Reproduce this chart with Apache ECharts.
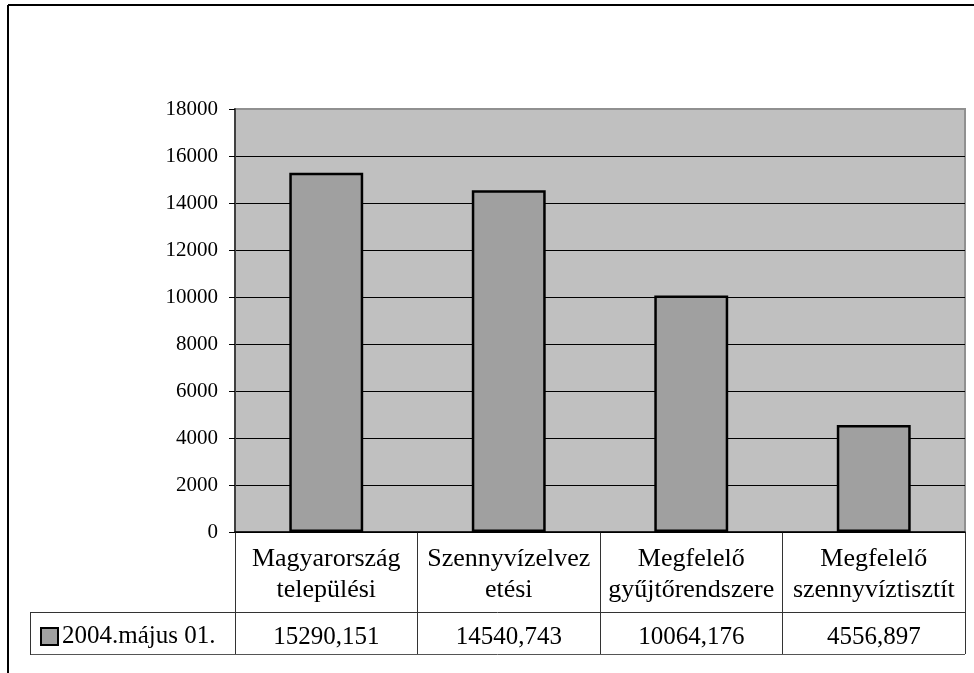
<!DOCTYPE html>
<html>
<head>
<meta charset="utf-8">
<script src="https://cdn.jsdelivr.net/npm/echarts@6/dist/echarts.min.js"></script>
<style>html,body{margin:0;padding:0;background:#fff}#c{width:974px;height:673px}</style>
</head>
<body>
<div id="c"></div>
<script>
const categories = ['Magyarország\ntelepülési', 'Szennyvízelvez\netési', 'Megfelelő\ngyűjtőrendszere', 'Megfelelő\nszennyvíztisztít'];
const seriesName = '2004.május 01.';
const values = [15290.151, 14540.743, 10064.176, 4556.897];
const yTicks = { min: 0, max: 18000, interval: 2000 };

const FONT = "'Liberation Serif', 'Times New Roman', serif";
const fmt = v => v.toFixed(3).replace('.', ',');
const nLines = (yTicks.max - yTicks.min) / yTicks.interval + 1;
const gridLineColors = Array.from({ length: nLines }, (_, i) => i === nLines - 1 ? '#909090' : '#000');

const chart = echarts.init(document.getElementById('c'), null, { renderer: 'canvas' });
chart.setOption({
  animation: false,
  backgroundColor: '#ffffff',
  textStyle: { fontFamily: FONT, color: '#000' },
  grid: [
    { left: 235, top: 109, width: 730, height: 423, show: true, backgroundColor: '#C0C0C0', borderColor: '#909090', borderWidth: 2 },
    { left: 235, top: 532, width: 730, height: 122, show: false }
  ],
  legend: {
    left: 35, top: 619,
    itemWidth: 17, itemHeight: 17, itemGap: 0,
    icon: 'rect',
    itemStyle: { color: '#A0A0A0', borderColor: '#000', borderWidth: 2 },
    textStyle: { fontFamily: FONT, fontSize: 25, color: '#000', padding: [0, 0, 0, -1] },
    data: [seriesName]
  },
  xAxis: [
    {
      gridIndex: 0, type: 'category', data: categories, position: 'bottom',
      axisLine: { show: true, lineStyle: { color: '#000', width: 1.5 } },
      axisTick: { show: false },
      axisLabel: { interval: 0, fontFamily: FONT, fontSize: 26, lineHeight: 31, color: '#000', margin: 12 },
      splitLine: { show: false }
    },
    {
      gridIndex: 1, type: 'category', data: categories, position: 'top',
      axisLine: { show: false }, axisTick: { show: false }, axisLabel: { show: false },
      splitLine: { show: true, lineStyle: { color: '#333', width: 1 } }
    },
    {
      gridIndex: 0, type: 'category', data: values.map(fmt), position: 'bottom', offset: 80,
      axisLine: { show: false }, axisTick: { show: false },
      axisLabel: { interval: 0, fontFamily: FONT, fontSize: 25, color: '#000', margin: 13 },
      splitLine: { show: false }
    }
  ],
  yAxis: [
    {
      gridIndex: 0, type: 'value', min: yTicks.min, max: yTicks.max, interval: yTicks.interval,
      axisLine: { show: true, lineStyle: { color: '#404040', width: 2 } },
      axisTick: { show: true, inside: false, length: 6, lineStyle: { color: '#000', width: 1 } },
      axisLabel: { fontFamily: FONT, fontSize: 21, color: '#000', margin: 17, formatter: v => String(v) },
      splitLine: { show: true, lineStyle: { color: gridLineColors, width: 1 } }
    },
    { gridIndex: 1, type: 'value', show: false }
  ],
  series: [
    {
      type: 'bar', name: seriesName, xAxisIndex: 0, yAxisIndex: 0,
      data: values, barWidth: '40.5%',
      itemStyle: { color: '#A0A0A0', borderColor: '#000', borderWidth: 2.5 }
    }
  ],
  graphic: [
    { type: 'line', shape: { x1: 8, y1: 5, x2: 974, y2: 5 }, style: { stroke: '#000', lineWidth: 2 } },
    { type: 'line', shape: { x1: 8, y1: 5, x2: 8, y2: 673 }, style: { stroke: '#000', lineWidth: 2 } },
    { type: 'line', shape: { x1: 30, y1: 612.5, x2: 965, y2: 612.5 }, style: { stroke: '#333', lineWidth: 1 } },
    { type: 'line', shape: { x1: 30, y1: 654.5, x2: 965, y2: 654.5 }, style: { stroke: '#555', lineWidth: 1 } },
    { type: 'line', shape: { x1: 30.5, y1: 612, x2: 30.5, y2: 655 }, style: { stroke: '#333', lineWidth: 1 } }
  ]
});
</script>
</body>
</html>
